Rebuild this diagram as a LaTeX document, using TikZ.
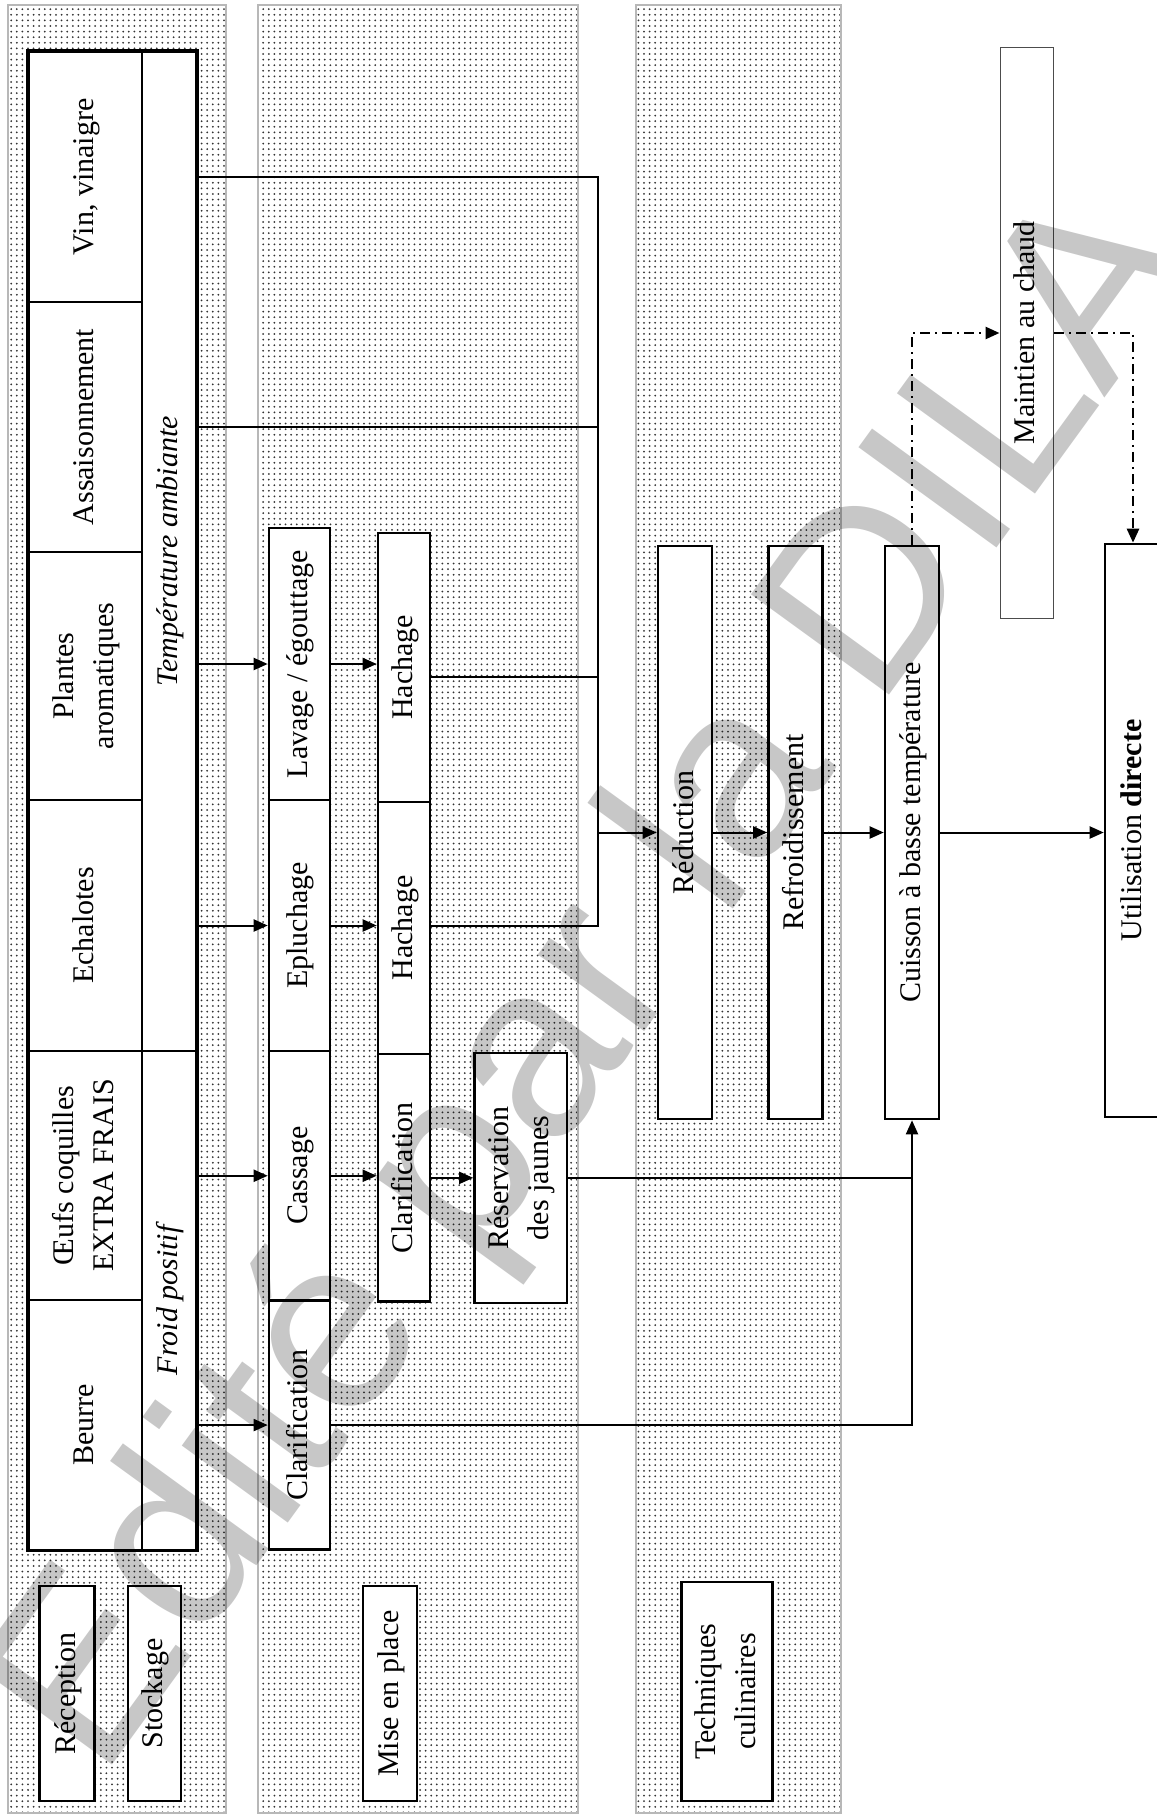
\documentclass[tikz,border=0pt]{standalone}
\usepackage{fontspec}
\setmainfont{Liberation Serif}
\newfontfamily\wmfont{Liberation Sans}
\usetikzlibrary{patterns,arrows.meta,calc}
\pgfdeclarepatternformonly{finedots}{\pgfqpoint{-0.6pt}{-0.6pt}}{\pgfqpoint{0.6pt}{0.6pt}}{\pgfqpoint{2.8pt}{2.8pt}}{%
  \pgfpathcircle{\pgfqpoint{0pt}{0pt}}{0.5pt}\pgfusepath{fill}}
\newcommand{\rtx}[1]{\rotatebox{90}{\begin{tabular}{@{}c@{}}#1\end{tabular}}}
\tikzset{
  band/.style={draw=black!28, line width=1pt, pattern=finedots, pattern color=black!80},
  box/.style={draw, line width=1.3pt, fill=white, inner sep=0pt, align=center,
    font=\fontsize{15}{20}\selectfont},
  cell/.style={box, line width=1pt},
  thinbox/.style={box, line width=0.5pt, draw=black!70},
  arr/.style={line width=1pt, -{Triangle[length=7pt,width=6pt]}},
  ln/.style={line width=1pt},
  dd/.style={line width=1.3pt, dash pattern=on 5pt off 2.5pt on 1pt off 2.5pt},
  wm/.style={rotate=54, text=black, text opacity=0.22, inner sep=0pt,
    font=\wmfont\fontsize{124}{124}\selectfont},
}
\begin{document}
\begin{tikzpicture}[x=0.5pt, y=-0.5pt]
\useasboundingbox (0,0) rectangle (1156,1818);
\fill[white] (0,0) rectangle (1156,1818);
% bands
\draw[band] (8,5) rectangle (226,1813);
\draw[band] (258,5) rectangle (578,1813);
\draw[band] (636,5) rectangle (841,1813);

% Stockage
\node[cell, minimum width=56.85pt, minimum height=125.15pt] (vin) at (85.5,176.9) {\rtx{Vin, vinaigre}};
\node[cell, minimum width=56.85pt, minimum height=125pt] (assais) at (85.5,427) {\rtx{Assaisonnement}};
\node[cell, minimum width=56.85pt, minimum height=124pt] (plantes) at (85.5,676) {\rtx{Plantes\\aromatiques}};
\node[cell, minimum width=56.85pt, minimum height=125.5pt] (echal) at (85.5,925.5) {\rtx{Echalotes}};
\node[cell, minimum width=56.85pt, minimum height=124.5pt] (oeufs) at (85.5,1175.5) {\rtx{Œufs coquilles\\EXTRA FRAIS}};
\node[cell, minimum width=56.85pt, minimum height=124.8pt] (beurre) at (85.5,1424.8) {\rtx{Beurre}};
\node[cell, minimum width=26.95pt, minimum height=499.65pt] (tamb) at (169.35,551.35) {\rtx{\itshape Température ambiante}};
\node[cell, minimum width=26.95pt, minimum height=249.3pt] (froid) at (169.35,1300.3) {\rtx{\itshape Froid positif}};
\draw[line width=1.4pt] (vin.north west) rectangle (froid.south east);

% Mise en place
\node[box, minimum width=30.5pt, minimum height=136pt] (lavage) at (299.5,664) {\rtx{Lavage / égouttage}};
\node[box, minimum width=30.5pt, minimum height=125.5pt] (eplu) at (299.5,925.5) {\rtx{Epluchage}};
\node[box, minimum width=30.5pt, minimum height=124.75pt] (cassage) at (299.5,1175.75) {\rtx{Cassage}};
\node[box, minimum width=30.5pt, minimum height=124.55pt] (clarA) at (299.5,1425.05) {\rtx{Clarification}};
\node[box, minimum width=26pt, minimum height=134.5pt] (hachA) at (404,667.5) {\rtx{Hachage}};
\node[box, minimum width=26pt, minimum height=126pt] (hachB) at (404,928) {\rtx{Hachage}};
\node[box, minimum width=26pt, minimum height=123.85pt] (clarB) at (404,1177.85) {\rtx{Clarification}};
\node[box, minimum width=46.25pt, minimum height=125pt] (reserv) at (520.75,1178) {\rtx{Réservation\\des jaunes}};

% Techniques culinaires
\node[box, minimum width=27pt, minimum height=286.5pt] (reduc) at (685,832.5) {\rtx{Réduction}};
\node[box, minimum width=27pt, minimum height=286.5pt] (refroid) at (795.5,832.5) {\rtx{Refroidissement}};
\node[box, minimum width=27pt, minimum height=286.5pt] (cuisson) at (912,832.5) {\rtx{Cuisson à basse température}};
\node[thinbox, minimum width=26.75pt, minimum height=285pt] (maintien) at (1026.75,333) {\rtx{Maintien au chaud}};
\node[box, minimum width=28pt, minimum height=286.5pt] (util) at (1133,830.5) {\rtx{Utilisation \textbf{directe}}};

% stage labels
\node[box, minimum width=27.5pt, minimum height=107.5pt] (recep) at (67,1693.5) {\rtx{Réception}};
\node[box, minimum width=26.5pt, minimum height=107.5pt] (stocklab) at (154.5,1693.5) {\rtx{Stockage}};
\node[box, minimum width=27pt, minimum height=107.5pt] (mep) at (390,1693.5) {\rtx{Mise en place}};
\node[box, minimum width=45.5pt, minimum height=109.5pt] (tech) at (727,1691.5) {\rtx{Techniques\\culinaires}};

% bus
\coordinate (b1) at (598,177);
\coordinate (b2) at (598,427);
\coordinate (b3) at (598,677);
\coordinate (b4) at (598,926);
\coordinate (b5) at (598,832.5);
\draw[ln, line width=1.2pt] (tamb.east |- b1) -- (b1) -- (b4) -- (hachB.east |- b4);
\draw[ln, line width=1.2pt] (tamb.east |- b2) -- (b2);
\draw[ln, line width=0.8pt] (hachA.east |- b3) -- (b3);
\draw[arr] (b5) -- (reduc.west);
\draw[arr] (reduc.east) -- (refroid.west);
\draw[arr] (refroid.east) -- (cuisson.west);
\draw[arr] (cuisson.east) -- (cuisson.east -| util.west);

% stockage -> mise en place
\draw[arr] (tamb.east |- lavage) -- (lavage.west);
\draw[arr] (lavage.east) -- (lavage.east -| hachA.west);
\draw[arr] (tamb.east |- eplu) -- (eplu.west);
\draw[arr] (eplu.east) -- (eplu.east -| hachB.west);
\draw[arr] (froid.east |- cassage) -- (cassage.west);
\draw[arr] (cassage.east) -- (cassage.east -| clarB.west);
\draw[arr] (clarB.east) -- (clarB.east -| reserv.west);
\draw[arr] (froid.east |- clarA) -- (clarA.west);
\draw[ln, line width=0.8pt] (reserv.east) -- (reserv.east -| cuisson.south);
\draw[arr] (clarA.east) -- (clarA.east -| cuisson.south) -- (cuisson.south);

% maintien au chaud
\draw[dd, -{Triangle[length=7pt,width=6pt]}] (cuisson.north) -- (cuisson.north |- maintien.west) -- (maintien.west);
\draw[dd, -{Triangle[length=7pt,width=6pt]}] (maintien.east) -- (maintien.east -| util.north) -- (util.north);

% watermark
\node[wm] (wmark) at (585,975) {Édité par la DILA};
\end{tikzpicture}
\end{document}
